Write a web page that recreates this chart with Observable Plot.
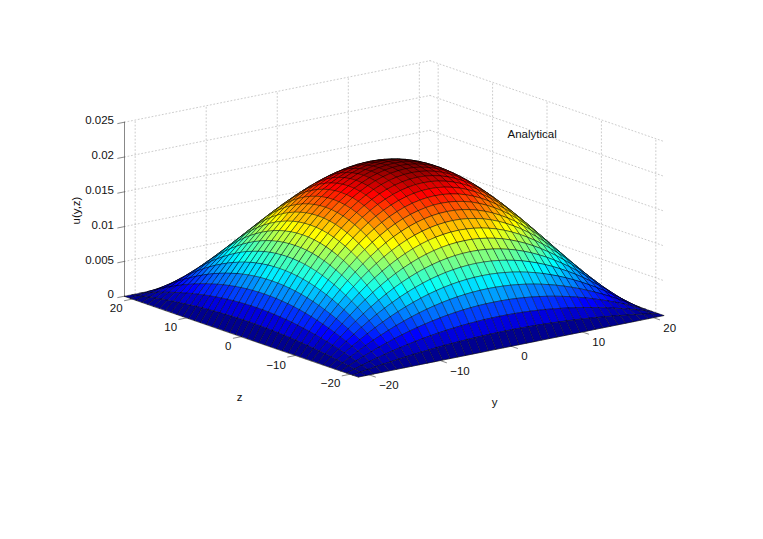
<!DOCTYPE html>
<html>
<head>
<meta charset="utf-8">
<script src="https://cdn.jsdelivr.net/npm/d3@7"></script>
<script src="https://cdn.jsdelivr.net/npm/@observablehq/plot@0.6"></script>
<style>
html,body{margin:0;padding:0;background:#fff}
svg{display:block}
</style>
</head>
<body>
<div id="chart"></div>
<script>
const gridY = [-21.5,-20.425,-19.35,-18.275,-17.2,-16.125,-15.05,-13.975,-12.9,-11.825,-10.75,-9.675,-8.6,-7.525,-6.45,-5.375,-4.3,-3.225,-2.15,-1.075,0,1.075,2.15,3.225,4.3,5.375,6.45,7.525,8.6,9.675,10.75,11.825,12.9,13.975,15.05,16.125,17.2,18.275,19.35,20.425,21.5];
const gridZ = gridY.slice();
const profileY = [0,0.0928,0.1816,0.2665,0.3473,0.4238,0.496,0.5638,0.627,0.6855,0.7393,0.7882,0.8323,0.8713,0.9053,0.9341,0.9578,0.9762,0.9894,0.9974,1,0.9974,0.9894,0.9762,0.9578,0.9341,0.9053,0.8713,0.8323,0.7882,0.7393,0.6855,0.627,0.5638,0.496,0.4238,0.3473,0.2665,0.1816,0.0928,0];
const profileZ = profileY.slice();
const peakU = 0.0205;
const uTicks = [0,0.005,0.01,0.015,0.02,0.025];
const uTickLabels = ["0","0.005","0.01","0.015","0.02","0.025"];
const yTicks = [-20,-10,0,10,20];
const zTicks = [-20,-10,0,10,20];
const tickText = ["\u221220","\u221210","0","10","20"];
const limit = 21.5, uTop = 0.025;

// Orthographic view of the box: screen position of the three visible base corners
const front = [358, 376.5], right = [663.5, 315], left = [124, 295.7], uSpan = 174;
function project(y, z, u) {
  const a = (y + limit) / (2 * limit), b = (z + limit) / (2 * limit);
  return {
    px: front[0] + a * (right[0] - front[0]) + b * (left[0] - front[0]),
    py: front[1] + a * (right[1] - front[1]) + b * (left[1] - front[1]) - (u / uTop) * uSpan
  };
}

// Jet colormap, 64 levels
function jet(k) {
  const v = (k + 1) / 64;
  const clip = x => Math.max(0, Math.min(1, x));
  const r = clip(Math.min(4 * v - 1.5, -4 * v + 4.5));
  const g = clip(Math.min(4 * v - 0.5, -4 * v + 3.5));
  const b = clip(Math.min(4 * v + 0.5, -4 * v + 2.5));
  return d3.rgb(r * 255, g * 255, b * 255).formatHex();
}
const jet64 = d3.range(64).map(jet);

// Surface cells, far corner first so nearer cells paint over them
const cells = [];
for (let i = gridY.length - 2; i >= 0; i--) {
  for (let j = gridZ.length - 2; j >= 0; j--) {
    const value = peakU * profileY[i] * profileZ[j];
    const id = i * 100 + j;
    for (const [a, b] of [[i, j], [i + 1, j], [i + 1, j + 1], [i, j + 1]]) {
      const p = project(gridY[a], gridZ[b], peakU * profileY[a] * profileZ[b]);
      cells.push({...p, id, value});
    }
  }
}

// Wall grid lines
const wall = [];
let g = 0;
const seg = (p, q) => { g++; wall.push({...p, g}, {...q, g}); };
for (const u of uTicks) {
  seg(project(-limit, limit, u), project(limit, limit, u));
  seg(project(limit, limit, u), project(limit, -limit, u));
}
for (const y of yTicks) seg(project(y, limit, 0), project(y, limit, uTop));
for (const z of zTicks) seg(project(limit, z, 0), project(limit, z, uTop));

// Solid axes and ticks
const axes = [];
let h = 0;
const aseg = (p, q) => { h++; axes.push({...p, h}, {...q, h}); };
aseg(project(-limit, limit, 0), project(-limit, limit, uTop));
aseg(project(-limit, limit, 0), project(-limit, -limit, 0));
aseg(project(-limit, -limit, 0), project(limit, -limit, 0));
for (const u of uTicks) aseg(project(-limit, limit, u), project(-limit - 0.95, limit, u));
for (const y of yTicks) aseg(project(y, -limit, 0), project(y, -limit - 1.15, 0));
for (const z of zTicks) aseg(project(-limit, z, 0), project(-limit - 1.15, z, 0));

const font = "'Liberation Sans', Arial, sans-serif";
const uLabels = uTicks.map((u, k) => ({...project(-limit, limit, u), t: uTickLabels[k]}));
const yLabels = yTicks.map((y, k) => ({...project(y, -limit, 0), t: tickText[k]}));
const zLabels = zTicks.map((z, k) => ({...project(-limit, z, 0), t: tickText[k]}));

const chart = Plot.plot({
  width: 763, height: 539,
  margin: 0,
  style: {background: "#fff", fontFamily: font, fontSize: "11.5px", color: "#111"},
  x: {domain: [0, 763], range: [0, 763], axis: null},
  y: {domain: [0, 539], range: [0, 539], axis: null},
  color: {type: "threshold", domain: d3.range(1, 64).map(k => k / 64 * peakU), range: jet64},
  marks: [
    Plot.line(wall, {x: "px", y: "py", z: "g", stroke: "#aaa", strokeWidth: 0.6, strokeDasharray: "1,2.5"}),
    Plot.line(axes, {x: "px", y: "py", z: "h", stroke: "#555", strokeWidth: 0.7}),
    Plot.line(cells, {x: "px", y: "py", z: "id", fill: "value", stroke: "#000", strokeWidth: 0.5, strokeOpacity: 0.85, curve: "linear-closed"}),
    Plot.text(uLabels, {x: "px", y: "py", text: "t", textAnchor: "end", dx: -10.5, dy: -1.5, fontSize: 11.5}),
    Plot.text(yLabels, {x: "px", y: "py", text: "t", textAnchor: "start", dx: 10, dy: 10.5, fontSize: 11.5}),
    Plot.text(zLabels, {x: "px", y: "py", text: "t", textAnchor: "end", dx: -10, dy: 9.5, fontSize: 11.5}),
    Plot.text(["y"], {x: [494], y: [402], text: d => d, fontSize: 11.5}),
    Plot.text(["z"], {x: [239], y: [397], text: d => d, fontSize: 11.5}),
    Plot.text(["u(y,z)"], {x: [76], y: [210], text: d => d, rotate: -90, fontSize: 11.5}),
    Plot.text(["Analytical"], {x: [507], y: [134], text: d => d, textAnchor: "start", fontSize: 11.5})
  ]
});
document.getElementById("chart").append(chart);
</script>
</body>
</html>
